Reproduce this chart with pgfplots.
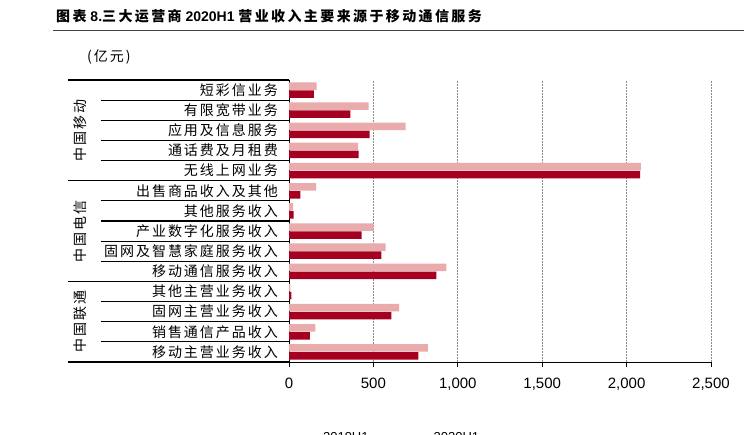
\documentclass[border=0pt]{standalone}
\usepackage{fontspec}
\setmainfont{Liberation Sans}
\newfontfamily\cjk[LetterSpace=14]{Noto Sans CJK SC}
\newfontfamily\cjkt[LetterSpace=17]{Noto Sans CJK SC}
\usepackage{pgfplots}
\pgfplotsset{compat=1.18}
\usetikzlibrary{calc}

\definecolor{lightred}{RGB}{233,171,171}
\definecolor{darkred}{RGB}{166,0,33}

\begin{document}
\begin{tikzpicture}
% title and rule
\node[anchor=west, inner sep=0pt] at (56pt,-16pt) {\fontsize{14}{16}\selectfont\bfseries
    {\cjkt 图表} 8.{\cjkt 三大运营商} 2020H1 {\cjkt 营业收入主要来源于移动通信服务}};
\draw[line width=0.8pt, black!75] (53pt,-30pt) -- (744pt,-30pt);
\node[anchor=west, inner sep=0pt] at (87pt,-57pt) {\fontsize{14}{16}\selectfont\cjk (亿元)};

\begin{axis}[
    at={(289pt,-362pt)}, anchor=south west,
    scale only axis, width=422pt, height=282pt,
    xbar, bar width=7.5pt,
    xmin=0, xmax=2500, ymin=-0.5, ymax=13.5,
    axis x line*=bottom, axis y line*=left,
    axis line style={black, line width=1pt},
    xtick={0,500,...,2500},
    xtick align=outside, major tick length=5pt,
    xtick style={black, line width=1pt},
    /pgf/number format/1000 sep={,},
    /pgf/number format/assume math mode=true,
    xticklabel style={font=\fontsize{15}{15}\selectfont, yshift=-7pt},
    ytick={0,...,13},
    ytick style={draw=none},
    yticklabels={移动主营业务收入, 销售通信产品收入, 固网主营业务收入, 其他主营业务收入,
        移动通信服务收入, 固网及智慧家庭服务收入, 产业数字化服务收入, 其他服务收入, 出售商品收入及其他,
        无线上网业务, 通话费及月租费, 应用及信息服务, 有限宽带业务, 短彩信业务},
    yticklabel style={font=\fontsize{14}{16}\selectfont\cjk, inner sep=0pt, xshift=-6pt},
    xmajorgrids, grid style={black!45, dash pattern=on 2pt off 1pt, line width=0.9pt},
    clip=false,
    legend style={at={(0.255,-0.27)}, anchor=center, draw=none, fill=none,
        font=\fontsize{13}{13}\selectfont, legend columns=2,
        /tikz/every even column/.append style={column sep=52pt}},
    legend image code/.code={\fill[#1] (0pt,-6pt) rectangle (9pt,1pt);},
]
\addplot[fill=lightred, draw=none, bar shift=4pt] coordinates {
    (164,13) (472,12) (691,11) (409,10) (2084,9)
    (160,8) (25,7) (502,6) (573,5) (932,4)
    (8,3) (652,2) (156,1) (822,0)};
\addplot[fill=darkred, draw=none, bar shift=-4pt] coordinates {
    (148,13) (363,12) (478,11) (413,10) (2080,9)
    (67,8) (28,7) (430,6) (547,5) (873,4)
    (14,3) (606,2) (124,1) (766,0)};
\legend{2019H1, 2020H1}

% group separators
\pgfplotsinvokeforeach{13.5, 8.5, 3.5, -0.5}{
    \draw[black, line width=1.2pt] (axis cs:0,#1) -- ++(-221pt,0pt);
}
% row separators
\pgfplotsinvokeforeach{12.5, 11.5, 10.5, 9.5, 7.5, 6.5, 5.5, 4.5, 2.5, 1.5, 0.5}{
    \draw[black, line width=1.2pt] (axis cs:0,#1) -- ++(-188pt,0pt);
}
% group names
\node[rotate=90, inner sep=0pt] at ($(axis cs:0,11)+(-209pt,0pt)$) {\fontsize{14}{16}\selectfont\cjk 中国移动};
\node[rotate=90, inner sep=0pt] at ($(axis cs:0,6)+(-209pt,0pt)$) {\fontsize{14}{16}\selectfont\cjk 中国电信};
\node[rotate=90, inner sep=0pt] at ($(axis cs:0,1.5)+(-209pt,0pt)$) {\fontsize{14}{16}\selectfont\cjk 中国联通};
\end{axis}

\pgfresetboundingbox
\path[use as bounding box] (0,0) rectangle (744pt,-435pt);
\end{tikzpicture}
\end{document}
